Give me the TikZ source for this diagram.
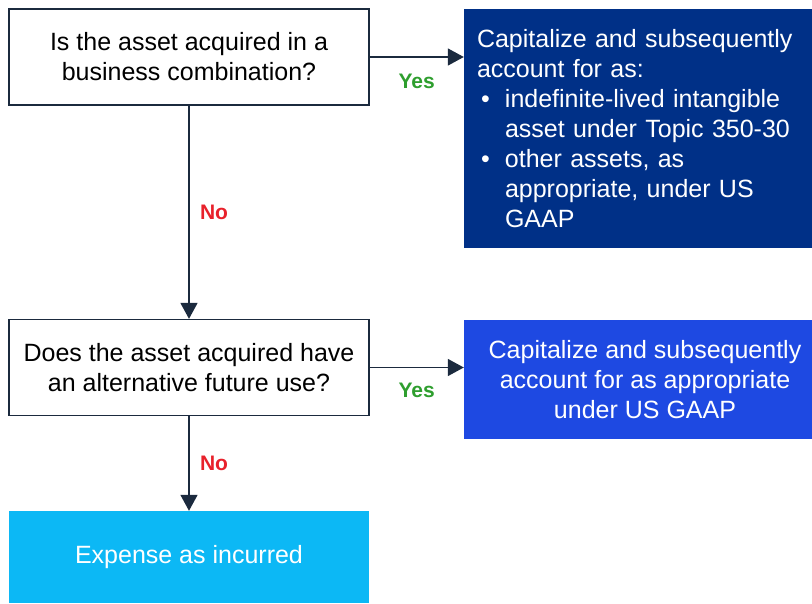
\documentclass[tikz,border=0pt]{standalone}
\usepackage{fontspec}
\setmainfont{Liberation Sans}
\usepackage{xcolor}
\usetikzlibrary{arrows.meta}
\definecolor{navybox}{HTML}{003087}
\definecolor{bluebox}{HTML}{1E49E2}
\definecolor{skybox}{HTML}{0CB8F5}
\definecolor{linedark}{HTML}{1B2A3E}
\definecolor{yesgreen}{HTML}{2E9E2E}
\definecolor{nored}{HTML}{E8212B}
\newcommand{\bigtext}{\fontsize{25}{30}\selectfont}
\newcommand{\bul}{\hspace*{4pt}\makebox[24pt][l]{\textbullet}}

\begin{document}
\begin{tikzpicture}[x=1pt,y=-1pt,
	question/.style={draw=linedark, line width=1.3pt, fill=white, inner sep=0pt,
		minimum width=360pt, minimum height=96pt, align=center, font=\bigtext},
	outcome/.style={fill=#1, text=white, inner sep=0pt, align=center, font=\bigtext},
	flow/.style={draw=linedark, line width=1.5pt, -{Triangle[length=16pt,width=17pt]}},
	yes/.style={text=yesgreen, font=\fontsize{21}{22}\selectfont\bfseries, inner sep=0pt},
	no/.style={text=nored, font=\fontsize{21}{22}\selectfont\bfseries, inner sep=0pt}]
	\clip (0,0) rectangle (812,603);
	% questions
	\node[question] (q1) at (189,57) {Is the asset acquired in a\\ business combination?};
	\node[question] (q2) at (189,367.5) {Does the asset acquired have\\ an alternative future use?};
	% outcomes
	\node[outcome=navybox, minimum width=348pt, minimum height=239pt, inner xsep=13pt,
		text width=322pt, align=left] (capbox) at (638,128.5)
		{Capitalize and subsequently\\ account for as:\\
		\bul indefinite-lived intangible\\ \hspace*{28pt}asset under Topic 350-30\\
		\bul other assets, as\\ \hspace*{28pt}appropriate, under US\\ \hspace*{28pt}GAAP};
	\node[outcome=bluebox, minimum width=362pt, minimum height=119pt] (capus) at (645,379.5)
		{Capitalize and subsequently\\ account for as appropriate\\ under US GAAP};
	\node[outcome=skybox, minimum width=360pt, minimum height=92pt] (expense) at (189,557)
		{Expense as incurred};
	% connectors
	\draw[flow] (q1.east) -- node[yes, midway, yshift=-24pt] (y1) {Yes} (q1.east -| capbox.west);
	\draw[flow] (q1.south) -- node[no, midway, xshift=25pt] (n1) {No} (q2.north);
	\draw[flow] (q2.east) -- node[yes, midway, yshift=-23pt] (y2) {Yes} (q2.east -| capus.west);
	\draw[flow] (q2.south) -- node[no, midway, xshift=25pt] (n2) {No} (expense.north);
\end{tikzpicture}
\end{document}
